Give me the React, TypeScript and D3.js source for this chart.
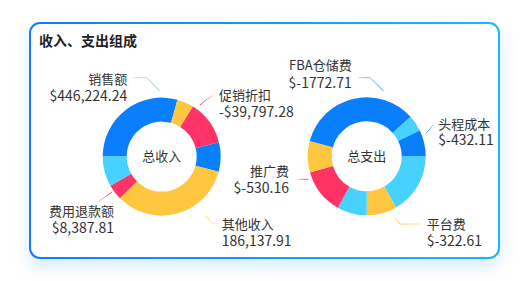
import React from "react";
import * as d3 from "d3";

// ---- data ----
const incomeShares = [105.5, 16.5, 44, 29, 120, 15.5, 29.5];
const expenseShares = [60, 30, 29.5, 44.5, 31, 123, 16, 26];

const incomeLabels = ["销售额", "促销折扣", "费用退款额", "其他收入"];
const incomeValues = ["$446,224.24", "-$39,797.28", "$8,387.81", "186,137.91"];
const expenseLabels = ["FBA仓储费", "头程成本", "推广费", "平台费"];
const expenseValues = ["$-1772.71", "$-432.11", "$-530.16", "$-322.61"];

const title = "收入、支出组成";
const incomeCenter = "总收入";
const expenseCenter = "总支出";

// ---- style ----
const B = "#0a7ffd";
const Y = "#ffc640";
const R = "#ff3366";
const L = "#47d1ff";
const incomeColors = [B, Y, R, B, Y, R, L];
const expenseColors = [L, Y, L, R, Y, B, L, B];
const incomeLineColors = [L, R, R, Y];
const expenseLineColors = ["#1a8cff", "#1a8cff", R, Y];

// label layout: anchor angle(deg)/radius, first leg vector, horizontal leg, text offset
type Lay = { a: number; r: number; l1: [number, number]; h: number; anchor: "start" | "end"; tx: number; ty1: number; ty2: number };
const incomeLayout: Lay[] = [
  { a: -2.1, r: 66, l1: [-12.6, -13], h: -13.4, anchor: "end", tx: -6, ty1: 6, ty2: 23.3 },
  { a: 36.5, r: 64.3, l1: [12.3, -9.7], h: 0, anchor: "start", tx: 6.7, ty1: 5, ty2: 21.5 },
  { a: 234.5, r: 61.4, l1: [-13.4, 9.4], h: 0, anchor: "end", tx: 15.7, ty1: 14.5, ty2: 31.2 },
  { a: 143.4, r: 73.8, l1: [7.6, 8], h: 5, anchor: "start", tx: 3.4, ty1: 5, ty2: 21.8 },
];
const expenseLayout: Lay[] = [
  { a: 14.2, r: 67.7, l1: [-13.3, -13], h: -11.7, anchor: "end", tx: -6.6, ty1: -7.2, ty2: 10.3 },
  { a: 68.5, r: 64.5, l1: [6.6, -7.7], h: 0, anchor: "start", tx: 5, ty1: 4, ty2: 20.5 },
  { a: 248.5, r: 62.8, l1: [0, 0], h: -10.6, anchor: "end", tx: -8.7, ty1: -3, ty2: 13.7 },
  { a: 155.5, r: 68.2, l1: [5, 5.7], h: 21.7, anchor: "start", tx: 5, ty1: 5, ty2: 21.8 },
];

const W = 529;
const H = 281;
const FONT = "'Noto Sans CJK SC', 'Noto Sans', sans-serif";
const rad = (d: number) => (d * Math.PI) / 180;

function Donut(props: {
  id: string;
  cx: number;
  cy: number;
  shares: number[];
  colors: string[];
  start: number;
  center: string;
  labels: string[];
  values: string[];
  layout: Lay[];
  lineColors: string[];
}) {
  const { id, cx, cy, shares, colors, start, center, labels, values, layout, lineColors } = props;
  const pie = d3
    .pie<number>()
    .sort(null)
    .value((d) => d)
    .startAngle(rad(start))
    .endAngle(rad(start) + Math.PI * 2);
  const arc = d3.arc<d3.PieArcDatum<number>>().innerRadius(35).outerRadius(59);
  const arcs = pie(shares);
  return (
    <g>
      <g transform={`translate(${cx},${cy})`}>
        {arcs.map((a, i) => (
          <path key={i} d={arc(a) || ""} fill={colors[i]} />
        ))}
        <text x={0} y={4.5} textAnchor="middle" fontSize={13} fill="#333" fontFamily={FONT}>
          {center}
        </text>
      </g>
      {labels.map((lab, i) => {
        const lay = layout[i];
        const p0x = cx + lay.r * Math.sin(rad(lay.a));
        const p0y = cy - lay.r * Math.cos(rad(lay.a));
        const p1x = p0x + lay.l1[0];
        const p1y = p0y + lay.l1[1];
        const p2x = p1x + lay.h;
        const p2y = p1y;
        const gid = `${id}-g${i}`;
        const path = d3.line()([
          [p0x, p0y],
          [p1x, p1y],
          [p2x, p2y],
        ]);
        const tx = p2x + lay.tx;
        return (
          <g key={i}>
            <defs>
              <linearGradient id={gid} gradientUnits="userSpaceOnUse" x1={p0x} y1={p0y} x2={p2x + 0.01} y2={p2y + 0.01}>
                <stop offset="0" stopColor={lineColors[i]} stopOpacity={1} />
                <stop offset="1" stopColor={lineColors[i]} stopOpacity={0.35} />
              </linearGradient>
            </defs>
            <path d={path || ""} fill="none" stroke={`url(#${gid})`} strokeWidth={1} />
            <text textAnchor={lay.anchor} fill="#333" fontFamily={FONT}>
              <tspan x={tx} y={p2y + lay.ty1} fontSize={13}>
                {lab}
              </tspan>
              <tspan x={tx} y={p2y + lay.ty2} fontSize={14}>
                {values[i]}
              </tspan>
            </text>
          </g>
        );
      })}
    </g>
  );
}

export default function App() {
  return (
    <svg
      width={W}
      height={H}
      viewBox={`0 0 ${W} ${H}`}
      style={{ position: "absolute", left: 0, top: 0, display: "block", background: "#fff" }}
    >
      <defs>
        <linearGradient id="border" x1="0" y1="0" x2="1" y2="0">
          <stop offset="0" stopColor="#1479ff" />
          <stop offset="1" stopColor="#1db6ff" />
        </linearGradient>
        <filter id="shadow" x="-20%" y="-20%" width="140%" height="150%">
          <feDropShadow dx="0" dy="8" stdDeviation="8" floodColor="#1677ff" floodOpacity="0.15" />
        </filter>
      </defs>
      <rect x={30} y={23} width={469} height={235} rx={10} ry={10} fill="#fff" stroke="url(#border)" strokeWidth={2} filter="url(#shadow)" />
      <text x={39} y={46} fontSize={14} fontWeight="bold" fill="#1d2129" fontFamily={FONT}>
        {title}
      </text>
      <Donut
        id="inc"
        cx={161.7}
        cy={156.6}
        shares={incomeShares}
        colors={incomeColors}
        start={-90}
        center={incomeCenter}
        labels={incomeLabels}
        values={incomeValues}
        layout={incomeLayout}
        lineColors={incomeLineColors}
      />
      <Donut
        id="exp"
        cx={366.7}
        cy={156.3}
        shares={expenseShares}
        colors={expenseColors}
        start={90}
        center={expenseCenter}
        labels={expenseLabels}
        values={expenseValues}
        layout={expenseLayout}
        lineColors={expenseLineColors}
      />
    </svg>
  );
}
